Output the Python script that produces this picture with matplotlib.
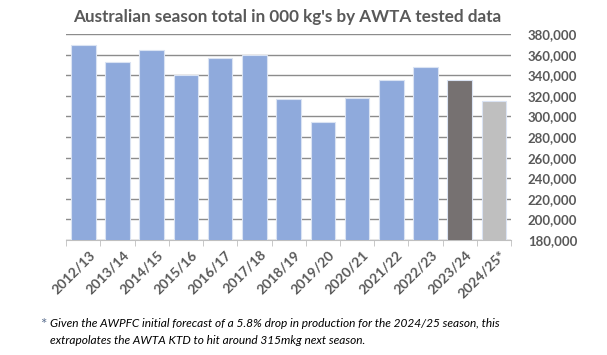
import numpy as np
import matplotlib.pyplot as plt
from matplotlib.ticker import FuncFormatter, FixedLocator

seasons = ['2012/13', '2013/14', '2014/15', '2015/16', '2016/17', '2017/18', '2018/19',
           '2019/20', '2020/21', '2021/22', '2022/23', '2023/24', '2024/25*']
totals = [369000, 353000, 365000, 340000, 357000, 360000, 317000,
          295000, 318000, 335000, 348000, 335000, 315000]
bar_colors = ['#8FAADC'] * 11 + ['#767171', '#BFBFBF']

plt.rcParams['font.family'] = ['Lato', 'DejaVu Sans']

fig = plt.figure(figsize=(6.07, 3.55), dpi=100)
ax = fig.add_axes([0.109, 0.324, 0.733, 0.580])

x = np.arange(len(seasons))
ax.bar(x, totals, width=0.72, color=bar_colors, edgecolor='#DAE3F3', linewidth=0.8, zorder=3)

ax.set_ylim(180000, 380000)
ax.set_xlim(-0.5, len(seasons) - 0.5)
ax.set_yticks(np.arange(180000, 380001, 20000))
ax.yaxis.set_major_formatter(FuncFormatter(lambda v, p: '{:,.0f}'.format(v)))
ax.yaxis.tick_right()
ax.tick_params(axis='y', length=0, pad=12, labelsize=9.5, labelcolor='#595959')
for lbl in ax.get_yticklabels():
    lbl.set_fontweight('bold')
ax.grid(axis='y', color='#8C8C8C', linewidth=1.0, zorder=0)

ax.set_xticks(x + 0.15)
ax.set_xticklabels(seasons, rotation=45, ha='right', rotation_mode='anchor',
                   fontsize=10, fontweight='bold', color='#595959')
ax.tick_params(axis='x', which='major', length=0, pad=6)
ax.xaxis.set_minor_locator(FixedLocator(np.arange(-0.5, len(seasons), 1)))
ax.tick_params(axis='x', which='minor', length=4, color='#BFBFBF')

for s in ['left', 'right', 'top']:
    ax.spines[s].set_visible(False)
ax.spines['bottom'].set_color('#BFBFBF')

fig.text(0.474, 0.952, "Australian season total in 000 kg's by AWTA tested data",
         ha='center', va='center', fontsize=12.3, fontweight='bold', color='#595959')

fig.text(0.066, 0.085, '*', ha='left', va='center', fontsize=11, color='#5B6F8F')
fig.text(0.083, 0.09, 'Given the AWPFC initial forecast of a 5.8% drop in production for the 2024/25 season, this',
         ha='left', va='center', fontsize=8.6, style='italic', color='black')
fig.text(0.083, 0.04, 'extrapolates the AWTA KTD to hit around 315mkg next season.',
         ha='left', va='center', fontsize=8.6, style='italic', color='black')

plt.savefig('out.png', dpi=100)
